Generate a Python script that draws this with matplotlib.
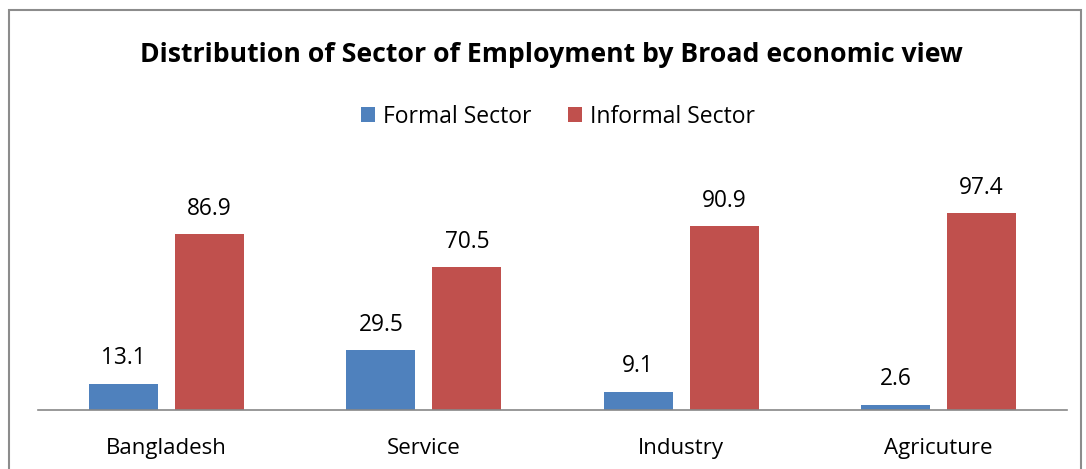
import matplotlib.pyplot as plt
import numpy as np
from matplotlib.patches import Rectangle

categories = ["Bangladesh", "Service", "Industry", "Agricuture"]
formal = [13.1, 29.5, 9.1, 2.6]
informal = [86.9, 70.5, 90.9, 97.4]
title = "Distribution of Sector of Employment by Broad economic view"

plt.rcParams["font.family"] = ["Open Sans", "DejaVu Sans"]

fig = plt.figure(figsize=(10.86, 4.69), dpi=100)
ax = fig.add_axes([0.035, 0.1258, 0.9475, 0.5175])

x = np.arange(len(categories))
w = 0.268
off = (w + 0.066) / 2
b1 = ax.bar(x - off, formal, w, color="#4F81BD", label="Formal Sector")
b2 = ax.bar(x + off, informal, w, color="#C0504D", label="Informal Sector")

for bars, vals in ((b1, formal), (b2, informal)):
    for r, v in zip(bars, vals):
        ax.text(r.get_x() + r.get_width() / 2, v + 12.5, f"{v}", ha="center",
                va="center", fontsize=16.3, color="black")

ax.set_xlim(-0.5, len(categories) - 0.5)
ax.set_ylim(0, 120)
ax.set_yticks([])
ax.set_xticks(x)
ax.set_xticklabels(categories, fontsize=16)
ax.tick_params(axis="x", length=0, pad=20)
for s in ("top", "right", "left"):
    ax.spines[s].set_visible(False)
ax.spines["bottom"].set_color("#888888")
ax.spines["bottom"].set_linewidth(1.2)

fig.text(0.508, 0.883, title, ha="center", va="center", fontsize=19.2, fontweight="bold")
fig.legend(loc="center", bbox_to_anchor=(0.514, 0.751), ncol=2, frameon=False,
           fontsize=16.5, handlelength=0.6, handleheight=0.6, handletextpad=0.35,
           columnspacing=1.6)

fig.add_artist(Rectangle((9 / 1086, -0.05), 1072 / 1086, 1.05 - 10 / 469,
                         transform=fig.transFigure, fill=False,
                         edgecolor="#8c8c8c", linewidth=1.5))

fig.savefig("out.png", dpi=100)
